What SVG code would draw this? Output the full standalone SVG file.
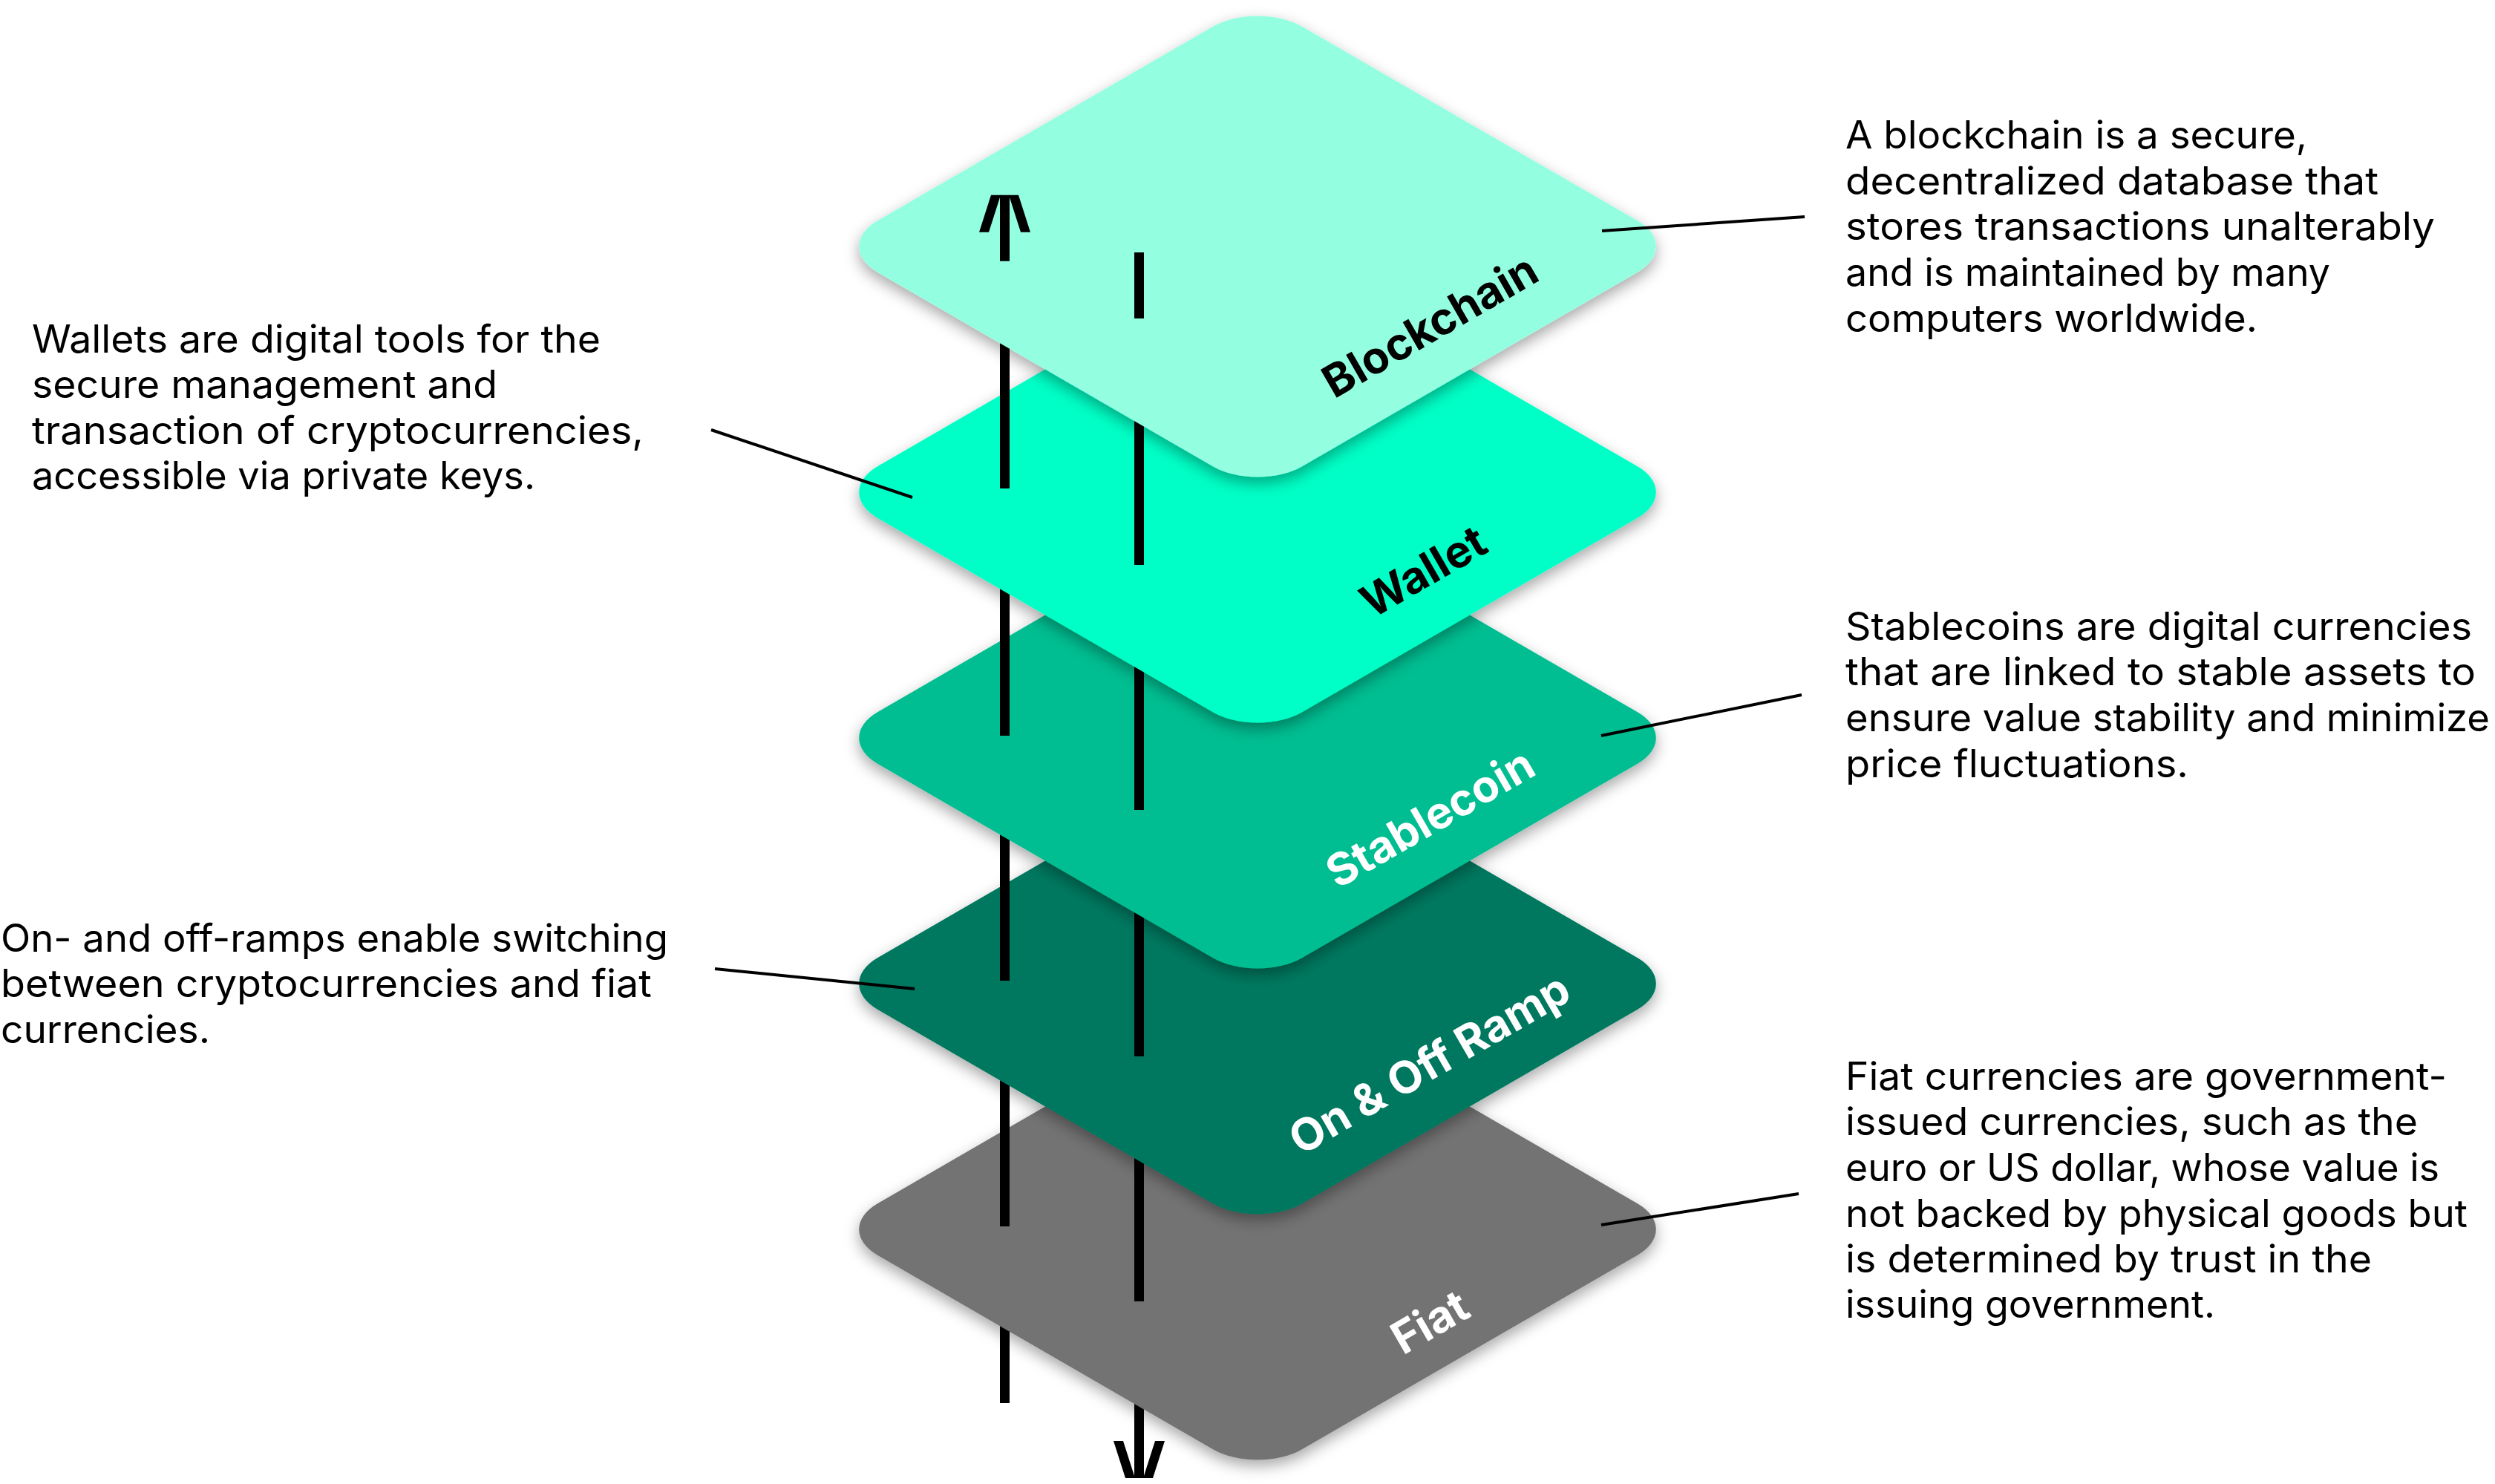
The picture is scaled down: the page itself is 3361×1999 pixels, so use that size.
<svg xmlns="http://www.w3.org/2000/svg" xmlns:xlink="http://www.w3.org/1999/xlink" width="3361" height="1999" viewBox="0 0 3361 1999">
<style>
.desc{font-family:Inter,"Liberation Sans",sans-serif;font-size:52px;fill:#000;}
.lbl{font-family:Inter,"Liberation Sans",sans-serif;font-weight:700;font-size:60px;text-anchor:middle;}
.dark{fill:#000;}
.light{fill:#fff;}
.ld{stroke:#000;stroke-width:4;fill:none;}
.flow line{stroke:#000;stroke-width:13;}
.ah{fill:#000;}
</style>
<defs>
<filter id="sh" x="-10%" y="-10%" width="120%" height="130%">
<feDropShadow dx="0" dy="8" stdDeviation="10" flood-color="#000" flood-opacity="0.35"/>
</filter>
<rect id="tile" x="-404.5" y="-404.5" width="809" height="809" rx="85" ry="85"/>
<path id="ah" d="M-18.5,0 L18.5,0 L34.5,50 L21.5,50 L5.5,0 L-5.5,0 L-21.5,50 L-34.5,50 Z"/>
</defs>
<rect width="3361" height="1999" fill="#fff"/>

<g class="flow" id="flow-5">
<line x1="1353.5" y1="1652" x2="1353.5" y2="1890"/>
<line x1="1534.5" y1="1753" x2="1534.5" y2="1991"/>
<use xlink:href="#ah" class="ah" transform="translate(1534.5,1991) scale(1,-1)"/>
</g>

<g id="fiat">
<g filter="url(#sh)"><use xlink:href="#tile" fill="#737373" transform="translate(1694,1656) scale(1,0.5786) rotate(45)"/></g>
<text class="lbl light" transform="translate(1937,1799) rotate(-30)">Fiat</text>
</g>

<g class="flow" id="flow-4">
<line x1="1353.5" y1="1321" x2="1353.5" y2="1652"/>
<line x1="1534.5" y1="1423" x2="1534.5" y2="1753"/>
</g>

<g id="on-off-ramp">
<g filter="url(#sh)"><use xlink:href="#tile" fill="#00785F" transform="translate(1694,1325) scale(1,0.5786) rotate(45)"/></g>
<text class="lbl light" transform="translate(1936,1451) rotate(-30)">On &amp; Off Ramp</text>
</g>

<g class="flow" id="flow-3">
<line x1="1353.5" y1="991" x2="1353.5" y2="1321"/>
<line x1="1534.5" y1="1091" x2="1534.5" y2="1423"/>
</g>

<g id="stablecoin">
<g filter="url(#sh)"><use xlink:href="#tile" fill="#00BE91" transform="translate(1694,994) scale(1,0.5786) rotate(45)"/></g>
<text class="lbl light" transform="translate(1937,1120) rotate(-30)">Stablecoin</text>
</g>

<g class="flow" id="flow-2">
<line x1="1353.5" y1="658" x2="1353.5" y2="991"/>
<line x1="1534.5" y1="761" x2="1534.5" y2="1091"/>
</g>

<g id="wallet">
<g filter="url(#sh)"><use xlink:href="#tile" fill="#00FFC6" transform="translate(1694,663) scale(1,0.5786) rotate(45)"/></g>
<text class="lbl dark" transform="translate(1928,788) rotate(-30)">Wallet</text>
</g>

<g class="flow" id="flow-1">
<line x1="1353.5" y1="351" x2="1353.5" y2="658"/>
<line x1="1534.5" y1="429" x2="1534.5" y2="761"/>
</g>

<g id="blockchain">
<g filter="url(#sh)"><use xlink:href="#tile" fill="#94FFE0" transform="translate(1694,332) scale(1,0.5786) rotate(45)"/></g>
<text class="lbl dark" transform="translate(1937,457) rotate(-30)">Blockchain</text>
</g>

<g class="flow" id="flow-0">
<line x1="1353.5" y1="262.7" x2="1353.5" y2="351.7"/>
<use xlink:href="#ah" class="ah" transform="translate(1353.5,262.7)"/>
<line x1="1534.5" y1="340" x2="1534.5" y2="429"/>
</g>

<g id="connectors">
<line class="ld" x1="2158" y1="311" x2="2431" y2="292"/>
<line class="ld" x1="958" y1="579" x2="1229" y2="670"/>
<line class="ld" x1="2157" y1="991" x2="2427" y2="936"/>
<line class="ld" x1="963" y1="1305" x2="1232" y2="1332"/>
<line class="ld" x1="2157" y1="1650" x2="2423" y2="1608"/>
</g>

<g id="desc-blockchain" class="desc">
<text x="2486" y="200" textLength="622" lengthAdjust="spacingAndGlyphs">A blockchain is a secure,</text>
<text x="2486" y="262" textLength="718" lengthAdjust="spacingAndGlyphs">decentralized database that</text>
<text x="2486" y="323" textLength="794" lengthAdjust="spacingAndGlyphs">stores transactions unalterably</text>
<text x="2486" y="385" textLength="653" lengthAdjust="spacingAndGlyphs">and is maintained by many</text>
<text x="2486" y="447" textLength="555" lengthAdjust="spacingAndGlyphs">computers worldwide.</text>
</g>

<g id="desc-wallet" class="desc">
<text x="43" y="475" textLength="766" lengthAdjust="spacingAndGlyphs">Wallets are digital tools for the</text>
<text x="43" y="536" textLength="627" lengthAdjust="spacingAndGlyphs">secure management and</text>
<text x="43" y="598" textLength="824" lengthAdjust="spacingAndGlyphs">transaction of cryptocurrencies,</text>
<text x="43" y="659" textLength="678" lengthAdjust="spacingAndGlyphs">accessible via private keys.</text>
</g>

<g id="desc-stablecoin" class="desc">
<text x="2486" y="862" textLength="844" lengthAdjust="spacingAndGlyphs">Stablecoins are digital currencies</text>
<text x="2486" y="923" textLength="849" lengthAdjust="spacingAndGlyphs">that are linked to stable assets to</text>
<text x="2486" y="985" textLength="868" lengthAdjust="spacingAndGlyphs">ensure value stability and minimize</text>
<text x="2486" y="1047" textLength="462" lengthAdjust="spacingAndGlyphs">price fluctuations.</text>
</g>

<g id="desc-on-off-ramp" class="desc">
<text x="1" y="1282" textLength="899" lengthAdjust="spacingAndGlyphs">On- and off-ramps enable switching</text>
<text x="1" y="1343" textLength="877" lengthAdjust="spacingAndGlyphs">between cryptocurrencies and fiat</text>
<text x="1" y="1405" textLength="282" lengthAdjust="spacingAndGlyphs">currencies.</text>
</g>

<g id="desc-fiat" class="desc">
<text x="2486" y="1468" textLength="810" lengthAdjust="spacingAndGlyphs">Fiat currencies are government-</text>
<text x="2486" y="1529" textLength="771" lengthAdjust="spacingAndGlyphs">issued currencies, such as the</text>
<text x="2486" y="1591" textLength="800" lengthAdjust="spacingAndGlyphs">euro or US dollar, whose value is</text>
<text x="2486" y="1653" textLength="838" lengthAdjust="spacingAndGlyphs">not backed by physical goods but</text>
<text x="2486" y="1714" textLength="709" lengthAdjust="spacingAndGlyphs">is determined by trust in the</text>
<text x="2486" y="1775" textLength="498" lengthAdjust="spacingAndGlyphs">issuing government.</text>
</g>
</svg>
